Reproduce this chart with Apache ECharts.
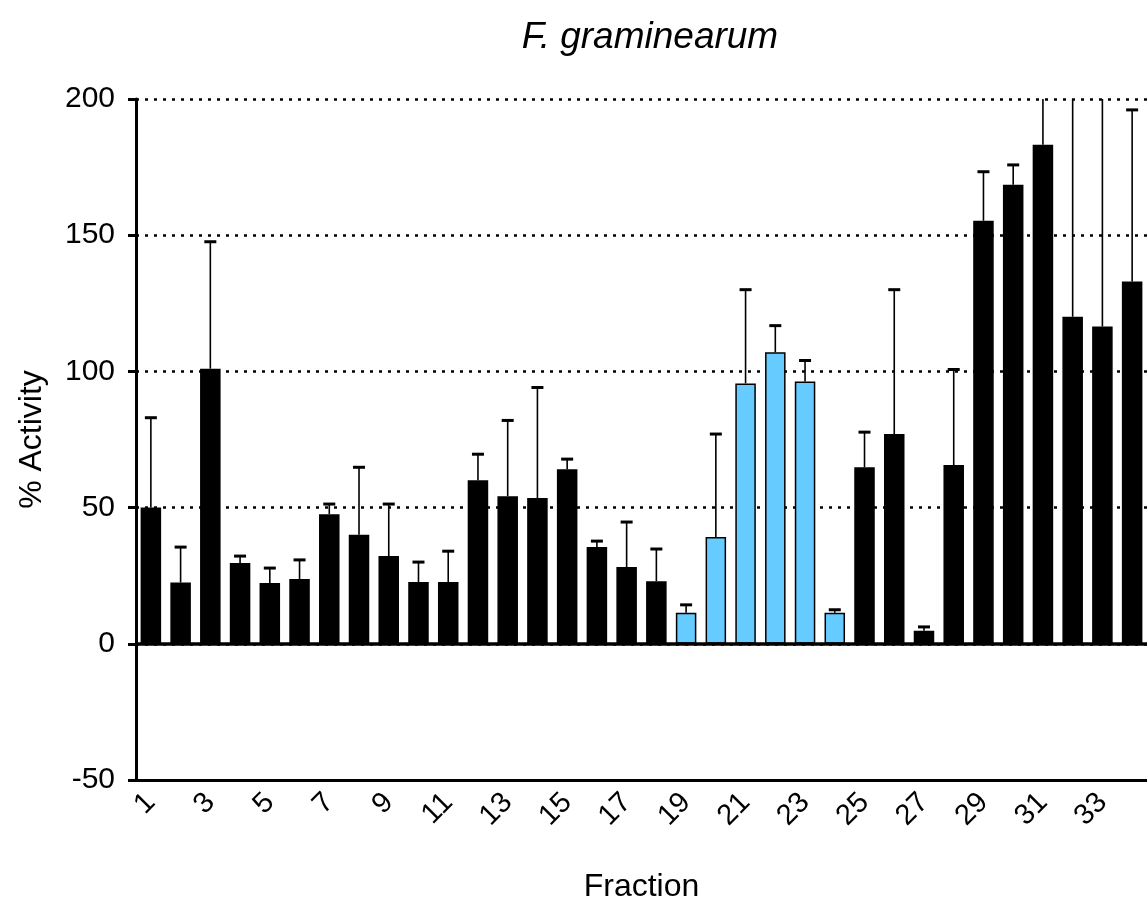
<!DOCTYPE html>
<html>
<head>
<meta charset="utf-8">
<script src="https://cdn.jsdelivr.net/npm/echarts@6/dist/echarts.min.js"></script>
<style>
html,body{margin:0;padding:0;background:#fff;}
#chart{width:1147px;height:903px;}
</style>
</head>
<body>
<div id="chart"></div>
<script>
// ---- data ----
const fractions = ['1','2','3','4','5','6','7','8','9','10','11','12','13','14','15','16','17','18','19','20','21','22','23','24','25','26','27','28','29','30','31','32','33','34'];
const activity = [50, 22.5, 101, 29.7, 22.3, 23.8, 47.6, 40, 32.2, 22.7, 22.7, 60, 54.2, 53.5, 64.1, 35.5, 28.2, 23, 11.4, 39.2, 95.6, 107, 96.3, 11.4, 64.8, 77, 4.8, 65.6, 155.3, 168.5, 183.2, 120.1, 116.5, 133];
const errorSD = [33, 13, 46.6, 2.5, 5.5, 7, 3.7, 24.8, 19.1, 7.3, 11.3, 9.6, 27.8, 40.6, 3.7, 2.2, 16.5, 11.8, 2.9, 37.8, 34.4, 9.8, 7.7, 1.1, 12.9, 53, 1.4, 35.1, 18, 7.3, 30, 95, 100, 63];
const activeFractions = ['19','20','21','22','23','24'];
const yTicks = [-50, 0, 50, 100, 150, 200];

const chart = echarts.init(document.getElementById('chart'));
const font = 'Liberation Sans, Arial, sans-serif';

const errData = fractions.map((f, i) => [i, activity[i], activity[i] + errorSD[i]]);

chart.setOption({
  backgroundColor: '#fff',
  animation: false,
  title: {
    text: 'F. graminearum',
    left: 645, top: 14, textAlign: 'center',
    textStyle: {fontFamily: font, fontSize: 37, fontStyle: 'italic', fontWeight: 'normal', color: '#000'}
  },
  grid: {left: 136, right: 0, top: 99, bottom: 123, containLabel: false, outerBoundsMode: 'none'},
  xAxis: {
    type: 'category',
    data: fractions,
    name: 'Fraction',
    nameLocation: 'middle',
    nameGap: 91,
    nameTextStyle: {fontFamily: font, fontSize: 32, color: '#000'},
    axisLine: {onZero: false, lineStyle: {color: '#000', width: 3}},
    axisTick: {alignWithLabel: true, interval: 1, length: 12, lineStyle: {color: '#000', width: 3}},
    axisLabel: {interval: 1, rotate: 45, margin: 18, fontFamily: font, fontSize: 29, color: '#000'},
    splitLine: {show: false}
  },
  yAxis: {
    type: 'value',
    min: yTicks[0], max: yTicks[yTicks.length - 1], interval: 50,
    name: '% Activity',
    nameLocation: 'middle',
    nameGap: 88,
    nameRotate: 90,
    nameTextStyle: {fontFamily: font, fontSize: 32, color: '#000'},
    axisLine: {show: true, lineStyle: {color: '#000', width: 3}},
    axisTick: {show: true, length: 8, lineStyle: {color: '#000', width: 3}},
    axisLabel: {margin: 21, fontFamily: font, fontSize: 30, color: '#000'},
    splitLine: {show: true, lineStyle: {color: '#000', width: 2.5, type: [3, 6]}}
  },
  series: [
    {
      type: 'bar',
      data: activity,
      barWidth: '69%',
      itemStyle: {
        color: (p) => activeFractions.includes(fractions[p.dataIndex]) ? '#66ccff' : '#000',
        borderColor: '#000',
        borderWidth: 1.5
      },
      markLine: {
        silent: true,
        symbol: 'none',
        label: {show: false},
        lineStyle: {color: '#000', width: 3.5, type: 'solid'},
        data: [{yAxis: 0}]
      },
      z: 2
    },
    {
      type: 'custom',
      clip: true,
      data: errData,
      encode: {x: 0, y: [1, 2]},
      z: 3,
      renderItem: (params, api) => {
        const x = api.value(0);
        const p0 = api.coord([x, api.value(1)]);
        const p1 = api.coord([x, api.value(2)]);
        const hw = 6;
        return {
          type: 'group',
          children: [
            {type: 'line', shape: {x1: p0[0], y1: p0[1], x2: p1[0], y2: p1[1]}, style: {stroke: '#000', lineWidth: 1.6}},
            {type: 'line', shape: {x1: p1[0] - hw, y1: p1[1], x2: p1[0] + hw, y2: p1[1]}, style: {stroke: '#000', lineWidth: 3}}
          ]
        };
      }
    }
  ]
});
</script>
</body>
</html>
